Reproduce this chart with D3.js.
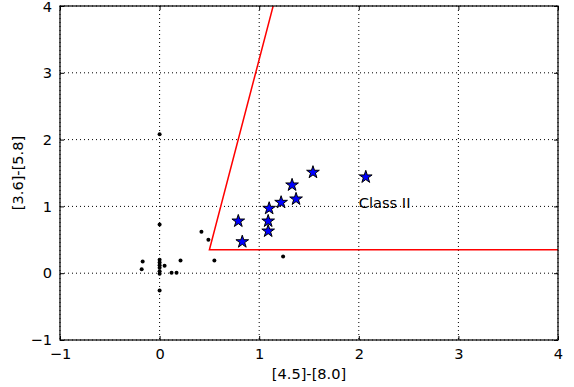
<!DOCTYPE html>
<html>
<head>
<meta charset="utf-8">
<script src="https://cdn.jsdelivr.net/npm/d3@7"></script>
<style>
  body { margin: 0; background: #fff; }
  text { font-family: "DejaVu Sans", sans-serif; fill: #000; }
</style>
</head>
<body>
<svg id="chart" width="574" height="387"></svg>
<script>
// DATA: colour-colour points
const starX = [1.54, 1.33, 1.22, 1.37, 1.10, 0.79, 1.09, 1.09, 0.83, 2.07];
const starY = [1.51, 1.32, 1.06, 1.11, 0.97, 0.78, 0.78, 0.63, 0.47, 1.44];

const dotX = [0, 0, 0.42, 0.49, 0.55, -0.17, -0.18, 0, 0, 0, 0, 0, 0, 0.05, 0.21, 0.12, 0.17, 0, 1.24];
const dotY = [2.08, 0.73, 0.62, 0.50, 0.19, 0.175, 0.06, 0.2, 0.16, 0.12, 0.08, 0.03, -0.01, 0.11, 0.19, 0.006, 0.006, -0.26, 0.25];

// Class II boundary (red)
const boundX = [1.14, 0.5, 4.0];
const boundY = [4.0, 0.35, 0.35];

const xTicks = [-1, 0, 1, 2, 3, 4];
const yTicks = [-1, 0, 1, 2, 3, 4];

// SETUP
const margin = { top: 6, right: 16, bottom: 47, left: 60 },
      width = 574 - margin.left - margin.right,
      height = 387 - margin.top - margin.bottom;

const svg = d3.select("#chart")
    .append("g")
    .attr("transform", `translate(${margin.left},${margin.top})`);

const x = d3.scaleLinear().domain([-1, 4]).range([0, width]);
const y = d3.scaleLinear().domain([-1, 4]).range([height, 0]);

svg.append("clipPath").attr("id", "clip")
    .append("rect").attr("width", width).attr("height", height);

// GRID (dotted)
svg.append("g").selectAll("line").data(xTicks).join("line")
    .attr("x1", d => x(d)).attr("x2", d => x(d))
    .attr("y1", 0).attr("y2", height)
    .attr("stroke", "#000").attr("stroke-width", 1)
    .attr("stroke-dasharray", "1,3");
svg.append("g").selectAll("line").data(yTicks).join("line")
    .attr("y1", d => y(d)).attr("y2", d => y(d))
    .attr("x1", 0).attr("x2", width)
    .attr("stroke", "#000").attr("stroke-width", 1)
    .attr("stroke-dasharray", "1,3");

// AXES (ticks inward)
const fs = "14.6px";
const minus = d => d < 0 ? "\u2212" + Math.abs(d) : d;
svg.append("g")
    .attr("transform", `translate(0,${height})`)
    .call(d3.axisBottom(x).tickValues(xTicks).tickSize(-4).tickPadding(9).tickFormat(minus))
    .call(g => g.select(".domain").remove())
    .call(g => g.selectAll("text").style("font-size", fs).attr("font-family", null));
svg.append("g")
    .call(d3.axisLeft(y).tickValues(yTicks).tickSize(-4).tickPadding(8).tickFormat(minus))
    .call(g => g.select(".domain").remove())
    .call(g => g.selectAll("text").style("font-size", fs).attr("font-family", null)
        .attr("dy", d => d === 4 ? "0.4em" : "0.32em"));
svg.append("g")
    .call(d3.axisTop(x).tickValues(xTicks).tickSize(-4).tickFormat(""))
    .call(g => g.select(".domain").remove());
svg.append("g")
    .attr("transform", `translate(${width},0)`)
    .call(d3.axisRight(y).tickValues(yTicks).tickSize(-4).tickFormat(""))
    .call(g => g.select(".domain").remove());

// RED BOUNDARY
const bound = boundX.map((v, i) => [v, boundY[i]]);
svg.append("path")
    .datum(bound)
    .attr("clip-path", "url(#clip)")
    .attr("d", d3.line().x(d => x(d[0])).y(d => y(d[1])))
    .attr("fill", "none")
    .attr("stroke", "red")
    .attr("stroke-width", 1.5);

// POINTS
svg.append("g").selectAll("circle").data(dotX.map((v, i) => [v, dotY[i]])).join("circle")
    .attr("cx", d => x(d[0])).attr("cy", d => y(d[1]))
    .attr("r", 2)
    .attr("fill", "#000");

const star = d3.symbol().type(d3.symbolStar).size(50);
svg.append("g").selectAll("path").data(starX.map((v, i) => [v, starY[i]])).join("path")
    .attr("transform", d => `translate(${x(d[0])},${y(d[1])})`)
    .attr("d", star)
    .attr("fill", "#0000ff")
    .attr("stroke", "#000")
    .attr("stroke-width", 1);

// FRAME
svg.append("rect")
    .attr("width", width).attr("height", height)
    .attr("fill", "none").attr("stroke", "#000").attr("stroke-width", 1.2);

// LABELS
svg.append("text")
    .attr("x", x(2.0)).attr("y", y(0.97))
    .style("font-size", fs)
    .text("Class II");

svg.append("text")
    .attr("text-anchor", "middle")
    .attr("x", width / 2)
    .attr("y", height + 39)
    .style("font-size", fs)
    .text("[4.5]-[8.0]");

svg.append("text")
    .attr("text-anchor", "middle")
    .attr("transform", `translate(${-37},${height / 2}) rotate(-90)`)
    .style("font-size", fs)
    .text("[3.6]-[5.8]");
</script>
</body>
</html>
